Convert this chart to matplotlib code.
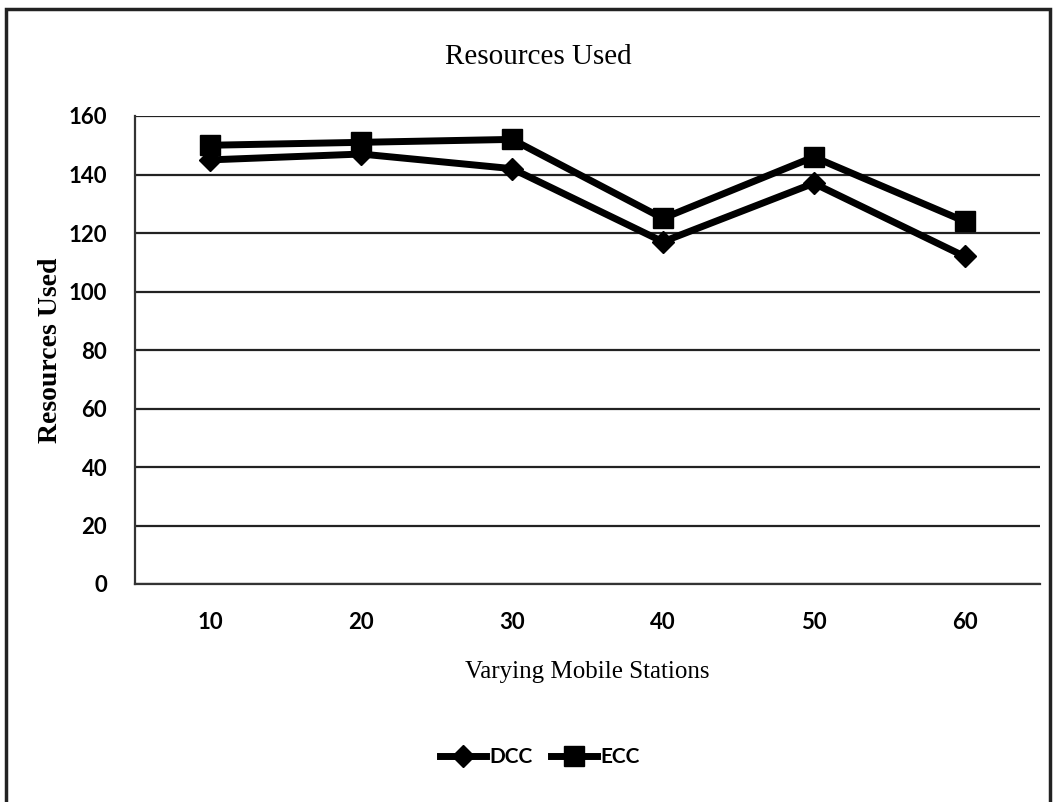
import matplotlib
matplotlib.use("Agg")
import matplotlib.pyplot as plt
from matplotlib.patches import Rectangle

categories = ["10", "20", "30", "40", "50", "60"]
dcc = [145, 147, 142, 117, 137, 112]
ecc = [150, 151, 152, 125, 146, 124]
yticks = [0, 20, 40, 60, 80, 100, 120, 140, 160]

W, H = 1055, 802
fig = plt.figure(figsize=(W / 100, H / 100), dpi=100)
ax = fig.add_axes([135 / W, 1 - 584 / H, (1040 - 135) / W, (584 - 116) / H])

x = list(range(len(categories)))
ax.plot(x, dcc, color="black", lw=5, marker="D", markersize=11, label="DCC", zorder=3)
ax.plot(x, ecc, color="black", lw=5, marker="s", markersize=14, label="ECC", zorder=3)

ax.set_xlim(-0.5, len(categories) - 0.5)
ax.set_ylim(0, 160)
ax.set_yticks(yticks)
ax.set_xticks(x)
ax.set_xticklabels(categories)
ax.yaxis.grid(True, color="#222222", lw=1.6)
ax.set_axisbelow(True)
for s in ["top", "right"]:
    ax.spines[s].set_visible(False)
ax.spines["left"].set_color("#333333")
ax.spines["left"].set_linewidth(1.6)
ax.spines["bottom"].set_color("#333333")
ax.spines["bottom"].set_linewidth(1.6)
ax.tick_params(length=0, pad=20)
for lab in ax.get_xticklabels() + ax.get_yticklabels():
    lab.set_fontfamily("Lato")
    lab.set_fontweight("bold")
    lab.set_fontsize(16)
ax.tick_params(axis="x", pad=20)

ax.set_xlabel("Varying Mobile Stations", fontfamily="Liberation Serif", fontsize=18, labelpad=20)
ax.set_ylabel("Resources Used", fontfamily="Liberation Serif", fontsize=20, fontweight="bold")
ax.yaxis.set_label_coords(-(135 - 63) / (1040 - 135), 0.5)
fig.text(538 / W, 1 - 57 / H, "Resources Used", fontfamily="Liberation Serif", fontsize=21,
         ha="center", va="center")

leg = fig.legend(loc="center", bbox_to_anchor=(540 / W, 1 - 757 / H), ncol=2, frameon=False,
                 prop={"family": "Lato", "weight": "bold", "size": 15},
                 handlelength=2.2, columnspacing=0.9, handletextpad=0.15)

fig.patches.append(Rectangle((6 / W, -0.01), (1050 - 6) / W, (H - 9) / H + 0.01,
                             transform=fig.transFigure, fill=False, edgecolor="#222222", lw=2.5))

fig.savefig("out.png", dpi=100)
